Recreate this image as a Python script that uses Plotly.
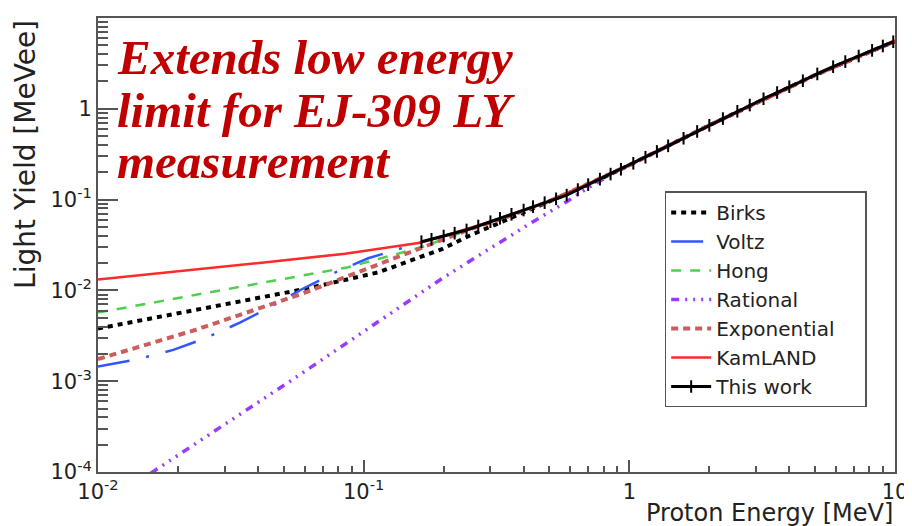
import plotly.graph_objects as go

# ---- data ----
energy_this_work = [0.165, 0.18, 0.20, 0.22, 0.244, 0.27, 0.30, 0.326, 0.36, 0.40, 0.434, 0.48, 0.53, 0.581,
                    0.64, 0.70, 0.775, 0.85, 0.93, 1.035, 1.15, 1.27, 1.40, 1.6, 1.8, 2.0, 2.25, 2.55, 2.84,
                    3.2, 3.6, 4.0, 4.5, 5.1, 5.85, 6.5, 7.3, 8.2, 9.0, 9.85]
ly_this_work = [0.0344, 0.0366, 0.0397, 0.0427, 0.0463, 0.0512, 0.0571, 0.0622, 0.0689, 0.0767, 0.0836, 0.0925,
                0.102, 0.112, 0.129, 0.146, 0.168, 0.191, 0.216, 0.251, 0.293, 0.339, 0.391, 0.474, 0.563,
                0.658, 0.780, 0.939, 1.10, 1.29, 1.51, 1.75, 2.04, 2.42, 2.91, 3.31, 3.81, 4.40, 4.92, 5.48]

energy_birks = [0.01, 0.0249, 0.0593, 0.1135, 0.197, 0.25, 0.33, 0.45, 0.7, 1.0, 2.0, 5.0, 10.0]
ly_birks = [0.0038, 0.00635, 0.01028, 0.0158, 0.0285, 0.040, 0.057, 0.084, 0.146, 0.24, 0.658, 2.35, 5.55]

energy_voltz = [0.01, 0.014, 0.0192, 0.0253, 0.0342, 0.0444, 0.0585, 0.078, 0.104, 0.139, 0.165, 0.22,
                0.3, 0.5, 1.0, 2.0, 5.0, 10.0]
ly_voltz = [0.00145, 0.00174, 0.00221, 0.00297, 0.00441, 0.00652, 0.0103, 0.0157, 0.0226, 0.0291, 0.0340,
            0.0427, 0.0571, 0.096, 0.24, 0.658, 2.35, 5.55]

energy_hong = [0.01, 0.0413, 0.0875, 0.1675, 0.22, 0.3, 0.5, 1.0, 2.0, 5.0, 10.0]
ly_hong = [0.0057, 0.01205, 0.0180, 0.0303, 0.041, 0.0571, 0.096, 0.24, 0.658, 2.35, 5.55]

energy_rational = [0.0158, 0.055, 0.202, 0.266, 0.434, 0.581, 0.7, 0.85, 1.0, 2.0, 5.0, 10.0]
ly_rational = [0.000097, 0.00108, 0.01416, 0.0235, 0.0571, 0.0948, 0.135, 0.188, 0.24, 0.658, 2.35, 5.55]

energy_exponential = [0.01, 0.0232, 0.0593, 0.156, 0.2, 0.25, 0.33, 0.5, 1.0, 2.0, 5.0, 10.0]
ly_exponential = [0.00175, 0.00366, 0.00929, 0.0279, 0.037, 0.047, 0.061, 0.096, 0.24, 0.658, 2.35, 5.55]

energy_kamland = [0.01, 0.02, 0.0413, 0.0851, 0.163, 0.2, 0.3, 0.5, 1.0, 2.0, 5.0, 10.0]
ly_kamland = [0.0132, 0.0162, 0.0202, 0.0254, 0.0335, 0.0397, 0.0571, 0.096, 0.24, 0.658, 2.35, 5.55]

x_tick_vals = [0.01, 0.1, 1, 10]
x_tick_text = ["10<sup>-2</sup>", "10<sup>-1</sup>", "1", "10"]
y_tick_vals = [0.0001, 0.001, 0.01, 0.1, 1, 10]
y_tick_text = ["10<sup>-4</sup>", "10<sup>-3</sup>", "10<sup>-2</sup>", "10<sup>-1</sup>", "1", "10"]

note_lines = ["Extends low energy", "limit for EJ-309 LY", "measurement"]
legend_pad = "\u00a0" * 4

# ---- figure ----
fig = go.Figure()

fig.add_trace(go.Scatter(x=energy_birks, y=ly_birks, mode="lines", name="Birks",
                         line=dict(color="#000000", width=4, dash="5px,5px")))
fig.add_trace(go.Scatter(x=energy_voltz, y=ly_voltz, mode="lines", name="Voltz",
                         line=dict(color="#3355ff", width=2.5, dash="32px,17px,3px,17px")))
fig.add_trace(go.Scatter(x=energy_hong, y=ly_hong, mode="lines", name="Hong",
                         line=dict(color="#4fcf4f", width=2.5, dash="10px,9px")))
fig.add_trace(go.Scatter(x=energy_rational, y=ly_rational, mode="lines", name="Rational",
                         line=dict(color="#9a3cff", width=3.5,
                                   dash="8px,6px,2px,6px,2px,6px,2px,6px")))
fig.add_trace(go.Scatter(x=energy_exponential, y=ly_exponential, mode="lines", name="Exponential" + legend_pad,
                         line=dict(color="#cd5c5c", width=4, dash="7px,5px")))
fig.add_trace(go.Scatter(x=energy_kamland, y=ly_kamland, mode="lines", name="KamLAND",
                         line=dict(color="#ff2a2a", width=2.5)))
fig.add_trace(go.Scatter(x=energy_this_work, y=ly_this_work, mode="lines+markers", name="This work",
                         line=dict(color="#000000", width=3),
                         marker=dict(symbol="line-ns-open", size=9, color="#000000",
                                     line=dict(color="#000000", width=2))))

axis_common = dict(type="log", showgrid=False, zeroline=False, showline=True, linecolor="#555555",
                   linewidth=2, mirror=True, ticks="inside", tickcolor="#555555", tickwidth=1.5,
                   automargin=False,
                   tickfont=dict(family="DejaVu Sans", size=21, color="#222222"))

fig.update_xaxes(range=[-2, 1], tickmode="array", tickvals=x_tick_vals, ticktext=x_tick_text,
                 ticklen=12, minor=dict(dtick="D1", ticks="inside", ticklen=6, tickcolor="#555555",
                                        tickwidth=1.5, showgrid=False),
                 **axis_common)
fig.update_yaxes(range=[-4, 1], tickmode="array", tickvals=y_tick_vals, ticktext=y_tick_text,
                 ticklen=20, minor=dict(dtick="D1", ticks="inside", ticklen=10, tickcolor="#555555",
                                        tickwidth=1.5, showgrid=False),
                 **axis_common)

annotations = []
for text, yp in zip(note_lines, [0.912, 0.797, 0.685]):
    annotations.append(dict(text="<b><i>%s</i></b>" % text, xref="paper", yref="paper", x=0.021, y=yp,
                            xanchor="left", yanchor="middle", showarrow=False,
                            font=dict(family="Liberation Serif", size=49, color="#C00000")))
annotations.append(dict(text="Proton Energy [MeV]", xref="paper", yref="paper", x=1.0, y=-0.091,
                        xanchor="right", yanchor="middle", showarrow=False,
                        font=dict(family="DejaVu Sans", size=24, color="#222222")))
annotations.append(dict(text="Light Yield [MeVee]", xref="paper", yref="paper", x=-0.091, y=1.0,
                        xanchor="center", yanchor="top", textangle=-90, showarrow=False,
                        font=dict(family="DejaVu Sans", size=28, color="#222222")))

# the page body adds an 8px offset, so the figure is sized/margined to compensate
fig.update_layout(
    width=904, height=518,
    margin=dict(l=90, r=17, t=10, b=54, autoexpand=False),
    paper_bgcolor="white", plot_bgcolor="white",
    showlegend=True,
    legend=dict(x=0.711, y=0.618, xanchor="left", yanchor="top", bgcolor="white",
                bordercolor="#555555", borderwidth=1.5, itemwidth=40,
                font=dict(family="DejaVu Sans", size=20, color="#222222")),
    annotations=annotations,
)

fig.write_html("out.html")
